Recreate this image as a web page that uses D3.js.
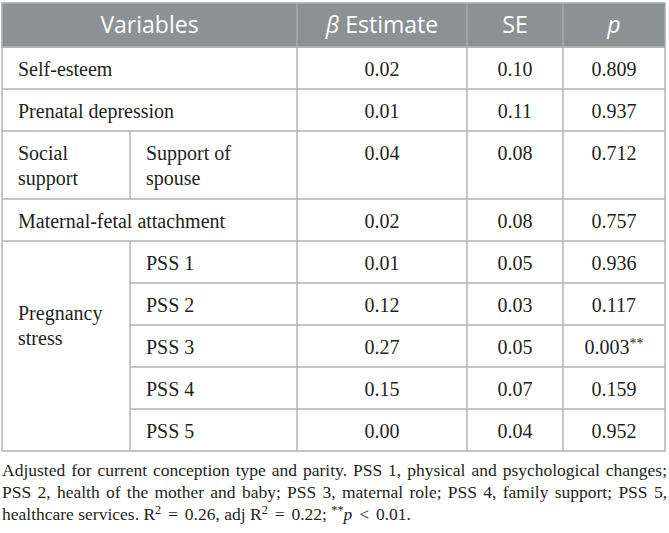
<!DOCTYPE html>
<html>
<head>
<meta charset="utf-8">
<script src="https://cdn.jsdelivr.net/npm/d3@7"></script>
<style>
  html, body { margin: 0; padding: 0; background: #ffffff; }
  svg { display: block; }
</style>
</head>
<body>
<svg id="chart" width="669" height="533"></svg>
<script>
// ---------- data ----------
const headers = ["Variables", "β Estimate", "SE", "p"];
const rowGroups = ["Self-esteem", "Prenatal depression", "Social support", "Maternal-fetal attachment",
  "Pregnancy stress", "Pregnancy stress", "Pregnancy stress", "Pregnancy stress", "Pregnancy stress"];
const rowSubs = ["", "", "Support of spouse", "", "PSS 1", "PSS 2", "PSS 3", "PSS 4", "PSS 5"];
const betaEstimates = ["0.02", "0.01", "0.04", "0.02", "0.01", "0.12", "0.27", "0.15", "0.00"];
const seValues = ["0.10", "0.11", "0.08", "0.08", "0.05", "0.03", "0.05", "0.07", "0.04"];
const pValues = ["0.809", "0.937", "0.712", "0.757", "0.936", "0.117", "0.003", "0.159", "0.952"];
const pMarks = ["", "", "", "", "", "", "**", "", ""];
const footnoteLines = [
  "Adjusted for current conception type and parity. PSS 1, physical and psychological changes;",
  "PSS 2, health of the mother and baby; PSS 3, maternal role; PSS 4, family support; PSS 5,",
  "healthcare services. R^2 = 0.26, adj R^2 = 0.22; ^**~p < 0.01."
];

// ---------- layout ----------
const svg = d3.select("#chart");
const colEdges = [2, 130, 297, 467, 563, 665];
const headTop = 3, headBottom = 47;
const rowBase = 42, extraLine = 26;
const bodyFont = "'Liberation Serif', 'Times New Roman', serif";
const headFont = "'Open Sans', 'Noto Sans', sans-serif";
const bodySize = 20, headSize = 23, noteSize = 17.5;
const gridColor = "#b3b3b3", headFill = "#8c9194", headSep = "#a9adb0";
const pad = 16;

const measurer = svg.append("text").attr("font-family", bodyFont).attr("font-size", bodySize).attr("x", -999).attr("y", -999);
function textW(s, size, fam) {
  measurer.attr("font-size", size).attr("font-family", fam || bodyFont).text(s);
  return measurer.node().getComputedTextLength();
}
function wrap(s, width) {
  const words = s.split(" ");
  const lines = [];
  let cur = "";
  words.forEach(w => {
    const t = cur ? cur + " " + w : w;
    if (textW(t, bodySize) > width && cur) { lines.push(cur); cur = w; }
    else cur = t;
  });
  if (cur) lines.push(cur);
  return lines;
}

const n = rowGroups.length;
const lineCounts = d3.range(n).map(i => {
  if (!rowSubs[i]) return 1;
  const multi = rowGroups.filter(g => g === rowGroups[i]).length > 1;
  const subLines = wrap(rowSubs[i], colEdges[2] - colEdges[1] - 2 * pad).length;
  const grpLines = multi ? 1 : wrap(rowGroups[i], colEdges[1] - colEdges[0] - 2 * pad).length;
  return Math.max(subLines, grpLines);
});
const rowTops = [headBottom];
lineCounts.forEach((c, i) => rowTops.push(rowTops[i] + rowBase + extraLine * (c - 1)));
const bodyBottom = rowTops[n];

const g = svg.append("g");

// header
g.append("rect").attr("x", colEdges[0]).attr("y", headTop)
  .attr("width", colEdges[5] - colEdges[0]).attr("height", headBottom - headTop)
  .attr("fill", headFill);
[colEdges[2], colEdges[3], colEdges[4]].forEach(x => {
  g.append("line").attr("x1", x).attr("x2", x).attr("y1", headTop).attr("y2", headBottom)
    .attr("stroke", headSep).attr("stroke-width", 1.5);
});
g.append("rect").attr("x", colEdges[0]).attr("y", headTop)
  .attr("width", colEdges[5] - colEdges[0]).attr("height", headBottom - headTop)
  .attr("fill", "none").attr("stroke", headSep).attr("stroke-width", 1.5);

const headCenters = [(colEdges[0] + colEdges[2]) / 2, (colEdges[2] + colEdges[3]) / 2,
  (colEdges[3] + colEdges[4]) / 2, (colEdges[4] + colEdges[5]) / 2];
const headBase = 33;
headers.forEach((h, i) => {
  const t = g.append("text").attr("x", headCenters[i]).attr("y", headBase)
    .attr("text-anchor", "middle").attr("font-family", headFont).attr("font-size", headSize)
    .attr("fill", "#ffffff");
  if (h.startsWith("β")) {
    t.append("tspan").attr("font-style", "italic").text("β");
    t.append("tspan").text(h.slice(1));
  } else if (h === "p") {
    t.append("tspan").attr("font-style", "italic").text("p");
  } else t.text(h);
});

// body grid
const grid = g.append("g").attr("stroke", gridColor).attr("stroke-width", 1.5).attr("fill", "none");
grid.append("rect").attr("x", colEdges[0]).attr("y", headBottom)
  .attr("width", colEdges[5] - colEdges[0]).attr("height", bodyBottom - headBottom);
[colEdges[2], colEdges[3], colEdges[4]].forEach(x => {
  grid.append("line").attr("x1", x).attr("x2", x).attr("y1", headBottom).attr("y2", bodyBottom);
});
for (let i = 0; i < n; i++) {
  if (rowSubs[i]) {
    grid.append("line").attr("x1", colEdges[1]).attr("x2", colEdges[1])
      .attr("y1", rowTops[i]).attr("y2", rowTops[i + 1]);
  }
  if (i > 0) {
    const same = rowGroups[i] === rowGroups[i - 1];
    grid.append("line").attr("x1", same ? colEdges[1] : colEdges[0]).attr("x2", colEdges[5])
      .attr("y1", rowTops[i]).attr("y2", rowTops[i]);
  }
}

// body text
const firstBase = 29, lineH = 25;
const txt = g.append("g").attr("font-family", bodyFont).attr("font-size", bodySize).attr("fill", "#231f20");
function drawLines(lines, x, y, anchor) {
  const t = txt.append("text").attr("x", x).attr("y", y).attr("text-anchor", anchor || "start");
  lines.forEach((l, k) => t.append("tspan").attr("x", x).attr("y", y + k * lineH).text(l));
}
let i = 0;
while (i < n) {
  let j = i;
  while (j + 1 < n && rowGroups[j + 1] === rowGroups[i]) j++;
  const span = j - i + 1;
  if (!rowSubs[i]) {
    drawLines([rowGroups[i]], colEdges[0] + pad, rowTops[i] + firstBase);
  } else {
    const lines = wrap(rowGroups[i], colEdges[1] - colEdges[0] - 2 * pad);
    let y;
    if (span === 1) y = rowTops[i] + firstBase;
    else {
      const c = rowTops[i] + 0.4 * (rowTops[j + 1] - rowTops[i]);
      y = c - (lines.length - 1) * lineH / 2 + 7;
    }
    drawLines(lines, colEdges[0] + pad, y);
    for (let k = i; k <= j; k++) {
      drawLines(wrap(rowSubs[k], colEdges[2] - colEdges[1] - 2 * pad), colEdges[1] + pad, rowTops[k] + firstBase);
    }
  }
  i = j + 1;
}
for (let r = 0; r < n; r++) {
  const y = rowTops[r] + firstBase;
  drawLines([betaEstimates[r]], (colEdges[2] + colEdges[3]) / 2, y, "middle");
  drawLines([seValues[r]], (colEdges[3] + colEdges[4]) / 2, y, "middle");
  const t = txt.append("text").attr("x", (colEdges[4] + colEdges[5]) / 2).attr("y", y).attr("text-anchor", "middle");
  t.append("tspan").text(pValues[r]);
  if (pMarks[r]) t.append("tspan").attr("font-size", bodySize * 0.7).attr("dy", -6).text(pMarks[r]);
}

// footnote (justified)
const note = g.append("g").attr("font-family", bodyFont).attr("font-size", noteSize).attr("fill", "#231f20");
const noteLeft = 2, noteRight = 667, noteBase = 476, noteLH = 22;
const mathExtra = 2.5;
function parseWord(w) {
  const segs = [];
  let m;
  if (w.startsWith("^")) {
    const parts = w.slice(1).split("~");
    segs.push([parts[0], "sup"]);
    if (parts[1]) segs.push([parts[1], "it"]);
    return segs;
  }
  if ((m = w.match(/^(.*)\^(.*)$/))) { segs.push([m[1], ""]); segs.push([m[2], "sup"]); return segs; }
  return [[w, ""]];
}
const spaceW = textW("a a", noteSize) - textW("aa", noteSize);
footnoteLines.forEach((line, li) => {
  const words = line.split(" ");
  const y = noteBase + li * noteLH;
  const nodes = words.map(w => {
    const t = note.append("text").attr("x", 0).attr("y", y);
    parseWord(w).forEach(([s, st]) => {
      const sp = t.append("tspan").text(s);
      if (st === "sup") sp.attr("font-size", noteSize * 0.7).attr("dy", -6);
      if (st === "it") sp.attr("font-style", "italic").attr("dy", 6);
    });
    return t;
  });
  const widths = nodes.map(t => t.node().getComputedTextLength());
  const isOp = words.map(w => w === "=" || w === "<");
  const total = d3.sum(widths);
  const justify = li < footnoteLines.length - 1;
  const gap = justify ? (noteRight - noteLeft - total) / (words.length - 1) : spaceW;
  let x = noteLeft;
  nodes.forEach((t, k) => {
    if (!justify && isOp[k]) x += mathExtra;
    t.attr("transform", `translate(${x},0)`);
    x += widths[k] + gap + (!justify && isOp[k] ? mathExtra : 0);
  });
});
measurer.remove();
</script>
</body>
</html>
